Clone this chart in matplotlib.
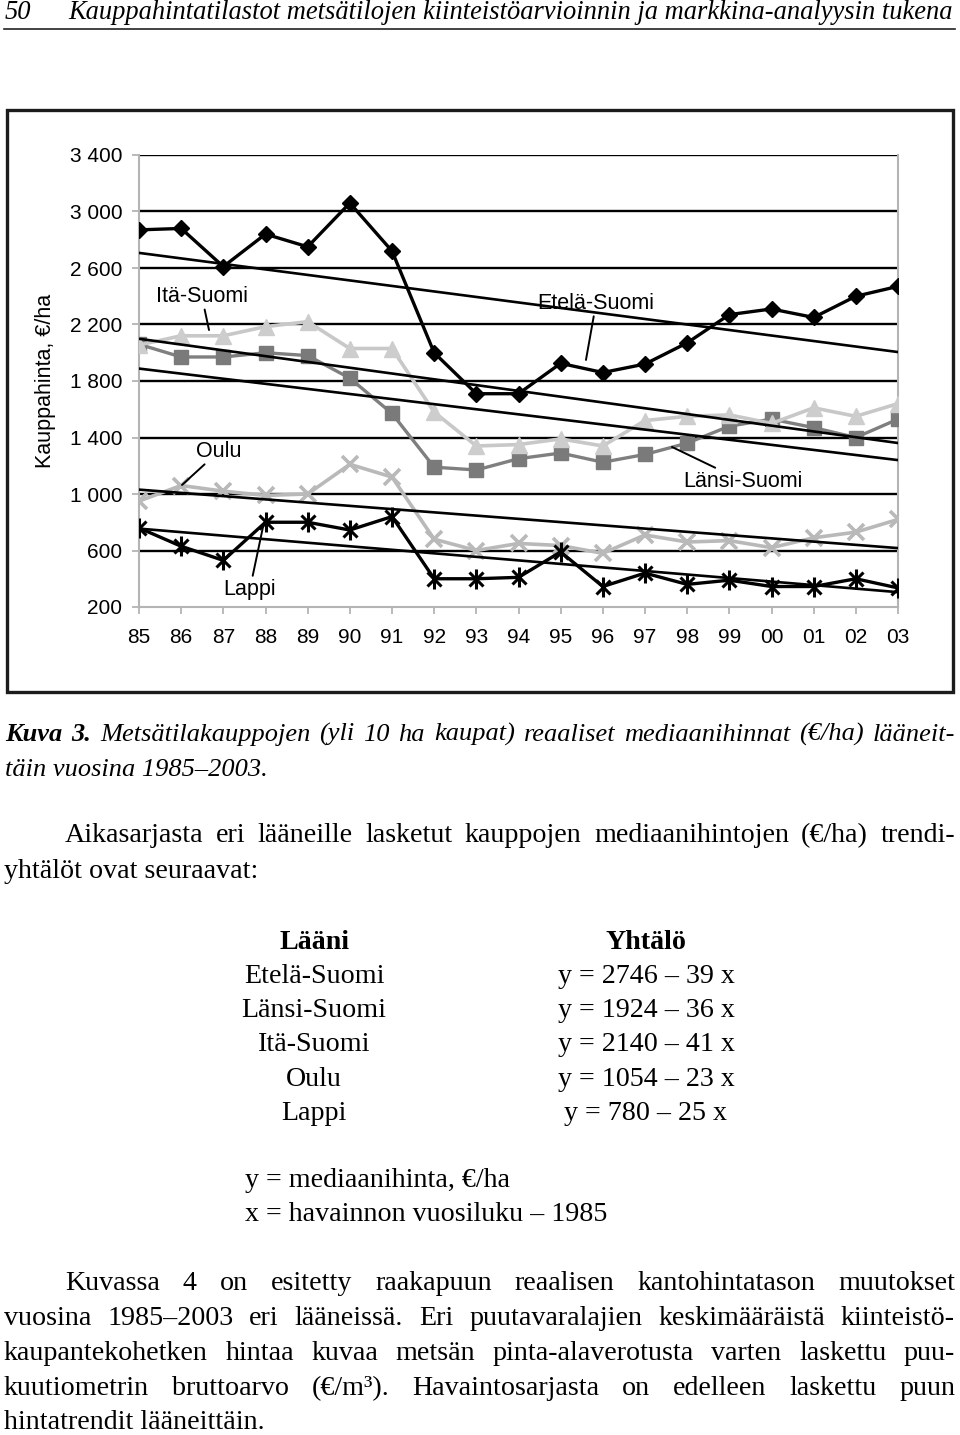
import matplotlib
matplotlib.use('Agg')
import matplotlib.pyplot as plt
from matplotlib.patches import Rectangle
from matplotlib.lines import Line2D
import numpy as np

# ---------------- data ----------------
years = ['85', '86', '87', '88', '89', '90', '91', '92', '93', '94',
         '95', '96', '97', '98', '99', '00', '01', '02', '03']
etela = [2870, 2880, 2610, 2840, 2750, 3060, 2720, 2000, 1710, 1710,
         1925, 1860, 1920, 2070, 2270, 2310, 2250, 2400, 2470]
lansi = [2060, 1970, 1970, 2000, 1980, 1820, 1570, 1190, 1170, 1250,
         1290, 1225, 1280, 1360, 1480, 1530, 1470, 1400, 1530]
ita = [2055, 2120, 2120, 2185, 2220, 2030, 2030, 1580, 1340, 1350,
       1390, 1340, 1520, 1550, 1560, 1500, 1610, 1550, 1640]
oulu = [950, 1060, 1020, 990, 1000, 1210, 1120, 680, 600, 650,
        635, 580, 710, 660, 670, 620, 690, 730, 820]
lappi = [760, 630, 530, 800, 800, 745, 840, 400, 400, 410,
         590, 345, 440, 360, 390, 345, 345, 400, 335]
regions = ['Etelä-Suomi', 'Länsi-Suomi', 'Itä-Suomi', 'Oulu', 'Lappi']
trend_intercept = [2746, 1924, 2140, 1054, 780]
trend_slope = [-39, -36, -41, -23, -25]
yticks = [200, 600, 1000, 1400, 1800, 2200, 2600, 3000, 3400]
ytick_labels = ['200', '600', '1 000', '1 400', '1 800', '2 200', '2 600', '3 000', '3 400']
equations = ['y = 2746 – 39 x', 'y = 1924 – 36 x', 'y = 2140 – 41 x',
             'y = 1054 – 23 x', 'y = 780 – 25 x']

# ---------------- figure ----------------
W, H, DPI = 960, 1435, 100
SERIF = 'Liberation Serif'
SANS = 'Liberation Sans'
plt.rcParams['font.family'] = [SANS, 'DejaVu Sans']

fig = plt.figure(figsize=(W / DPI, H / DPI), dpi=DPI, facecolor='white')
renderer = fig.canvas.get_renderer()


def fx(x):
    return x / W


def fy(y):
    return 1 - y / H


def measure(s, **kw):
    t = fig.text(0, 0, s, **kw)
    w = t.get_window_extent(renderer).width
    t.remove()
    return w


def fit_size(s, target, **kw):
    return 20 * target / measure(s, fontsize=20, **kw)


def put(x, ybase, s, **kw):
    fig.text(fx(x), fy(ybase), s, ha='left', va='baseline', **kw)


def justified(tokens, x0, x1, ybase):
    # tokens: list of (word, props)
    widths = [measure(w, **p) for w, p in tokens]
    gap = (x1 - x0 - sum(widths)) / (len(tokens) - 1)
    x = x0
    for (w, p), wd in zip(tokens, widths):
        put(x, ybase, w, **p)
        x += wd + gap


# header
title = 'Kauppahintatilastot metsätilojen kiinteistöarvioinnin ja markkina-analyysin tukena'
hs = fit_size(title, 886, family=SERIF, style='italic')
put(5, 19, '50', family=SERIF, style='italic', fontsize=hs)
put(68, 19, title, family=SERIF, style='italic', fontsize=hs)
fig.add_artist(Line2D([fx(4), fx(955)], [fy(29), fy(29)], transform=fig.transFigure,
                      color='#222222', lw=1.2))

# body font size
p1l1 = 'Aikasarjasta eri lääneille lasketut kauppojen mediaanihintojen (€/ha) trendi-'
bs = fit_size(p1l1, 852, family=SERIF)
body = dict(family=SERIF, fontsize=bs)
bold = dict(family=SERIF, fontsize=bs, weight='bold')

# caption
cap1 = 'Metsätilakauppojen (yli 10 ha kaupat) reaaliset mediaanihinnat (€/ha) lääneit-'
cs = fit_size('täin vuosina 1985–2003.', 262, family=SERIF, style='italic')
ital = dict(family=SERIF, fontsize=cs, style='italic')
bold_ital = dict(family=SERIF, fontsize=cs, style='italic', weight='bold')
toks = [('Kuva', bold_ital), ('3.', bold_ital)] + [(w, ital) for w in cap1.split()]
justified(toks, 5, 955, 741)
put(5, 776, 'täin vuosina 1985–2003.', **ital)

# paragraph 1
justified([(w, body) for w in p1l1.split()], 65, 955, 842)
put(4, 878, 'yhtälöt ovat seuraavat:', **body)

# table
fig.text(fx(314), fy(949), 'Lääni', ha='center', va='baseline', **bold)
fig.text(fx(646), fy(949), 'Yhtälö', ha='center', va='baseline', **bold)
for i, (r, e) in enumerate(zip(regions, equations)):
    yb = 983 + i * 34.2
    fig.text(fx(314), fy(yb), r, ha='center', va='baseline', **body)
    fig.text(fx(646), fy(yb), e, ha='center', va='baseline', **body)
put(245, 1187, 'y = mediaanihinta, €/ha', **body)
put(245, 1221, 'x = havainnon vuosiluku – 1985', **body)

# paragraph 2
p2 = ['Kuvassa 4 on esitetty raakapuun reaalisen kantohintatason muutokset',
      'vuosina 1985–2003 eri lääneissä. Eri puutavaralajien keskimääräistä kiinteistö-',
      'kaupantekohetken hintaa kuvaa metsän pinta-alaverotusta varten laskettu puu-',
      'kuutiometrin bruttoarvo (€/m³). Havaintosarjasta on edelleen laskettu puun']
p2y = [1290, 1325, 1360, 1395]
for i, (line, yb) in enumerate(zip(p2, p2y)):
    justified([(w, body) for w in line.split()], 65 if i == 0 else 4, 955, yb)
put(4, 1429, 'hintatrendit lääneittäin.', **body)

# chart frame
fig.add_artist(Rectangle((fx(7), fy(692)), fx(953 - 7), (692 - 110) / H,
                         transform=fig.transFigure, fill=False,
                         ec='#1c1c1c', lw=2.4))

# ---------------- chart ----------------
ax = fig.add_axes([fx(139), fy(607), fx(898 - 139), (607 - 155) / H])
ax.set_facecolor('white')
x = np.arange(len(years))
ax.set_xlim(0, len(years) - 1)
ax.set_ylim(yticks[0], yticks[-1])

for v in yticks[1:]:
    ax.axhline(v, color='black', lw=1.7, zorder=1)

for s in ['left', 'bottom', 'right']:
    ax.spines[s].set_color('#b4b4b4')
    ax.spines[s].set_linewidth(1.5)
    ax.spines[s].set_zorder(1.5)
ax.spines['top'].set_visible(False)

ax.set_yticks(yticks)
ax.set_yticklabels(ytick_labels)
ax.set_xticks(x)
ax.set_xticklabels(years)
ax.tick_params(axis='y', direction='out', length=5, width=1.3, color='#b4b4b4',
               labelsize=15, pad=7)
ax.tick_params(axis='x', direction='out', length=5, width=1.3, color='#b4b4b4',
               labelsize=15, pad=10)

# series
ax.plot(x, etela, color='black', lw=2.4, marker='D', ms=8,
        mfc='black', mec='black', zorder=3)
ax.plot(x, lansi, color='#7f7f7f', lw=2.4, marker='s', ms=10.5,
        mfc='#7a7a7a', mec='#7a7a7a', zorder=3)
ax.plot(x, ita, color='#c8c8c8', lw=2.6, marker='^', ms=11,
        mfc='#cdcdcd', mec='#cdcdcd', zorder=3)
ax.plot(x, oulu, color='#b9b9b9', lw=2.6, marker='x', ms=11, mew=2.6,
        mec='#b9b9b9', zorder=3)
ax.plot(x, lappi, color='black', lw=2.4, marker='x', ms=10.5, mew=2.2,
        mec='black', zorder=3)
ax.plot(x, lappi, ls='none', marker='|', ms=14, mew=2.2, mec='black', zorder=3)

# trend lines (Excel linear trendlines, x = 1 for 1985)
xt = np.array([x[0], x[-1]])
for a, b in zip(trend_intercept, trend_slope):
    ax.plot(xt, a + b * (xt + 1), color='black', lw=1.9, zorder=4)

# labels with leader lines
lab = dict(fontsize=15.5, ha='center', va='center', zorder=5,
           arrowprops=dict(arrowstyle='-', color='black', lw=1.4,
                           shrinkA=0, shrinkB=0))
ax.annotate('Itä-Suomi', xy=(1.66, 2161), xytext=(1.49, 2400), **lab)
ax.annotate('Etelä-Suomi', xy=(10.60, 1949), xytext=(10.84, 2352), **lab)
ax.annotate('Oulu', xy=(1.02, 1064), xytext=(1.90, 1304), **lab)
ax.annotate('Länsi-Suomi', xy=(12.64, 1333), xytext=(14.32, 1092), **lab)
ax.annotate('Lappi', xy=(2.94, 766), xytext=(2.63, 327), **lab)

fig.text(fx(46), fy(381), 'Kauppahinta, €/ha', rotation=90, ha='center',
         va='center', fontsize=15.5)

fig.savefig('out.png', dpi=DPI, facecolor='white')
